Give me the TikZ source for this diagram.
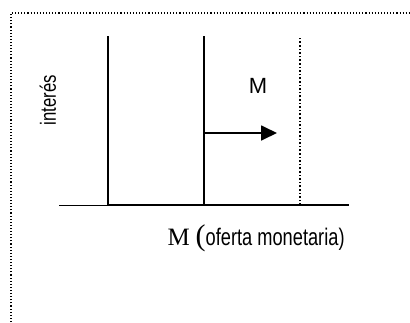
\documentclass[tikz,border=0pt]{standalone}
\usepackage{fontspec}
\setmainfont{Liberation Serif}
\newfontfamily\plainsans{Liberation Sans}
\newfontfamily\narrowsans[FakeStretch=0.76]{Liberation Sans}
\usetikzlibrary{arrows.meta}

\begin{document}
\begin{tikzpicture}[x=1pt,y=-1pt,line width=1pt]
\useasboundingbox (0,0) rectangle (410,322);
\coordinate (frameBL) at (11,322); \coordinate (frameTL) at (11,13);
\coordinate (frameTR) at (410,13);
\draw[dotted,line width=1.1pt] (frameBL)--(frameTL)--(frameTR);
\coordinate (axisL) at (59,205); \coordinate (axisR) at (349,205);
\coordinate (m0) at (108,205); \coordinate (m0top) at (108,36);
\coordinate (m1) at (204,205); \coordinate (m1top) at (204,36);
\coordinate (m2) at (300,205); \coordinate (m2top) at (300,36);
\draw (axisL)--(m0);
\draw[line width=1.7pt] (m0)--(axisR);
\foreach \m in {m0,m1} {\draw[line width=1.8pt] (\m)--(\m top);}
\draw[dotted,line width=1.6pt] (m2)--(m2top);
\coordinate (shiftA) at (204,133); \coordinate (shiftB) at (277,133);
\draw[line width=1.8pt,-{Triangle[length=16pt,width=15pt]}] (shiftA)--(shiftB);
\node (mlab) at (258,86) {\plainsans\fontsize{22}{24}\selectfont M};
\node[rotate=90] (ilab) at (48,100) {\narrowsans\fontsize{22}{24}\selectfont interés};
\node[anchor=base west,inner sep=0pt] (xlab) at (167,245)
  {\fontsize{25}{28}\selectfont M\hspace{6pt}{\fontsize{30}{32}\selectfont(}\narrowsans\fontsize{24}{26}\selectfont oferta monetaria)};
\end{tikzpicture}
\end{document}
